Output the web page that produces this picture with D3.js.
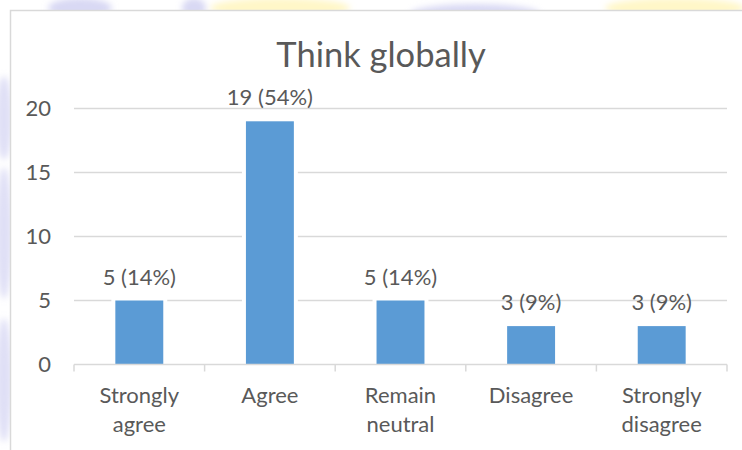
<!DOCTYPE html>
<html>
<head>
<meta charset="utf-8">
<script src="https://cdn.jsdelivr.net/npm/d3@7/dist/d3.min.js"></script>
<style>
  html, body { margin: 0; padding: 0; background: #ffffff; }
  svg { display: block; }
  text { font-family: Lato, "Open Sans", sans-serif; fill: #595959; }
</style>
</head>
<body>
<svg id="chart" width="742" height="450"></svg>
<script>
// Survey answers for "Think globally"
const title = "Think globally";
const categories = ["Strongly agree", "Agree", "Remain neutral", "Disagree", "Strongly disagree"];
const counts = [5, 19, 5, 3, 3];
const percents = ["14%", "54%", "14%", "9%", "9%"];
const yTicks = [0, 5, 10, 15, 20];

const W = 742, H = 450;
const svg = d3.select("#chart");

// faint page watermark showing around the chart frame
const defs = svg.append("defs");
defs.append("filter").attr("id", "soft")
  .append("feGaussianBlur").attr("stdDeviation", 3);
const wm = svg.append("g").attr("filter", "url(#soft)");
const blobs = [
  {cx: 80, cy: 8, rx: 32, ry: 10, c: "#c9c9ef"},
  {cx: 194, cy: 8, rx: 12, ry: 10, c: "#c9c9ef"},
  {cx: 280, cy: 8, rx: 70, ry: 10, c: "#fff3b0"},
  {cx: 475, cy: 14, rx: 65, ry: 10, c: "#c9c9ef"},
  {cx: 675, cy: 8, rx: 70, ry: 10, c: "#fff3b0"},
  {cx: 4, cy: 118, rx: 8, ry: 42, c: "#d2d2f2"},
  {cx: 4, cy: 233, rx: 8, ry: 66, c: "#d2d2f2"},
  {cx: 4, cy: 380, rx: 8, ry: 62, c: "#d2d2f2"}
];
wm.selectAll("ellipse").data(blobs).join("ellipse")
  .attr("cx", d => d.cx).attr("cy", d => d.cy)
  .attr("rx", d => d.rx).attr("ry", d => d.ry)
  .attr("fill", d => d.c).attr("opacity", 0.7);

// chart frame
svg.append("rect")
  .attr("x", 10.5).attr("y", 10.5)
  .attr("width", W + 20).attr("height", H + 20)
  .attr("fill", "#ffffff").attr("stroke", "#d9d9d9").attr("stroke-width", 1.5);

// scales
const x = d3.scaleBand().domain(categories).range([74, 727]).paddingInner(0.633).paddingOuter(0.3165);
const y = d3.scaleLinear().domain([0, 20]).range([364.5, 108.5]);

// gridlines
svg.append("g").selectAll("line").data(yTicks.filter(d => d > 0)).join("line")
  .attr("x1", 74).attr("x2", 727)
  .attr("y1", d => y(d)).attr("y2", d => y(d))
  .attr("stroke", "#d9d9d9").attr("stroke-width", 1.5);

// y tick labels
svg.append("g").selectAll("text").data(yTicks).join("text")
  .attr("x", 51).attr("y", d => y(d)).attr("dy", "0.36em")
  .attr("text-anchor", "end").attr("font-size", 22)
  .text(d => d);

// bars with a thin white halo
const bars = svg.append("g");
bars.selectAll("rect.halo").data(counts).join("rect").attr("class", "halo")
  .attr("x", (d, i) => x(categories[i]) - 4)
  .attr("y", d => y(d) - 4)
  .attr("width", x.bandwidth() + 8)
  .attr("height", d => y(0) - y(d) + 4)
  .attr("fill", "#ffffff");
bars.selectAll("rect.bar").data(counts).join("rect").attr("class", "bar")
  .attr("x", (d, i) => x(categories[i]))
  .attr("y", d => y(d))
  .attr("width", x.bandwidth())
  .attr("height", d => y(0) - y(d))
  .attr("fill", "#5b9bd5");

// category axis: baseline and ticks between categories
const step = x.step();
svg.append("line")
  .attr("x1", 74).attr("x2", 727).attr("y1", y(0)).attr("y2", y(0))
  .attr("stroke", "#d9d9d9").attr("stroke-width", 1.5);
svg.append("g").selectAll("line").data(d3.range(categories.length + 1)).join("line")
  .attr("x1", i => 74 + i * step).attr("x2", i => 74 + i * step)
  .attr("y1", y(0)).attr("y2", y(0) + 7)
  .attr("stroke", "#d9d9d9").attr("stroke-width", 1.5);

// category labels, wrapped on two lines
svg.append("g").selectAll("text").data(categories).join("text")
  .attr("text-anchor", "middle").attr("font-size", 22)
  .each(function(d) {
    const words = d.split(" ");
    const cx = x(d) + x.bandwidth() / 2;
    d3.select(this).selectAll("tspan").data(words).join("tspan")
      .attr("x", cx).attr("y", (w, j) => 403 + j * 29)
      .text(w => w);
  });

// value labels
svg.append("g").selectAll("text").data(counts).join("text")
  .attr("x", (d, i) => x(categories[i]) + x.bandwidth() / 2)
  .attr("y", d => y(d) - 16)
  .attr("text-anchor", "middle").attr("font-size", 22)
  .text((d, i) => `${d} (${percents[i]})`);

// title
svg.append("text")
  .attr("x", 381).attr("y", 67)
  .attr("text-anchor", "middle").attr("font-size", 34.5)
  .text(title);
</script>
</body>
</html>
